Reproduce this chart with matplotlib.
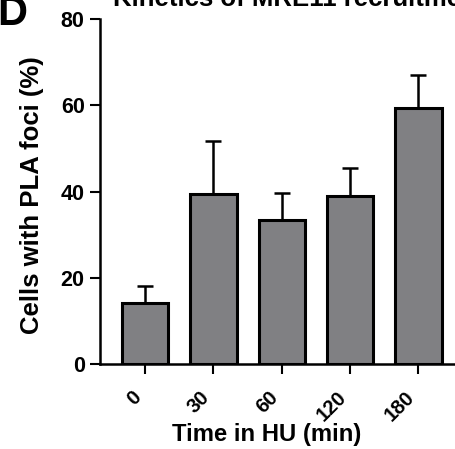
import matplotlib.pyplot as plt

plt.rcParams['font.family'] = ['Liberation Sans', 'DejaVu Sans']
plt.rcParams['font.weight'] = 'bold'

times = ['0', '30', '60', '120', '180']
means = [14.1, 39.4, 33.5, 38.9, 59.3]
errors = [4.0, 12.4, 6.2, 6.6, 7.7]

fig = plt.figure(figsize=(4.56, 4.49), dpi=100)
ax = fig.add_axes([100 / 456, 1 - 364 / 449, 356 / 456, 345 / 449])

x = list(range(len(times)))
ax.bar(x, means, width=0.68, color='#808083', edgecolor='black', linewidth=2.2,
       yerr=[[0] * len(errors), errors],
       error_kw=dict(ecolor='black', elinewidth=1.8, capsize=5.6, capthick=1.8))

ax.set_xlim(-0.66, 4.55)
ax.set_ylim(0, 80)
ax.set_yticks([0, 20, 40, 60, 80])
ax.set_xticks(x)
ax.set_xticklabels(times, rotation=45, ha='right', fontsize=14.5)

for side in ['top', 'right']:
    ax.spines[side].set_visible(False)
for side in ['left', 'bottom']:
    ax.spines[side].set_linewidth(1.8)
ax.spines['left'].set_bounds(0, 80)

ax.tick_params(axis='both', width=1.5, length=7)
ax.tick_params(axis='y', pad=4, labelsize=15.5)
ax.tick_params(axis='x', pad=10)

ax.set_ylabel('Cells with PLA foci (%)', fontsize=18.5, fontweight='bold', labelpad=12)
ax.yaxis.label.set_y(0.49)
ax.set_xlabel('Time in HU (min)', fontsize=17.2, fontweight='bold', labelpad=-1)
ax.xaxis.label.set_x(0.469)

fig.text(113 / 456, 1 - 6 / 449, 'Kinetics of MRE11 recruitment', fontsize=18.5,
         fontweight='bold', va='baseline', ha='left')
fig.text(-3 / 456, 1 - 25 / 449, 'D', fontsize=30, fontweight='bold',
         va='baseline', ha='left')

fig.savefig('out.png', dpi=100)
